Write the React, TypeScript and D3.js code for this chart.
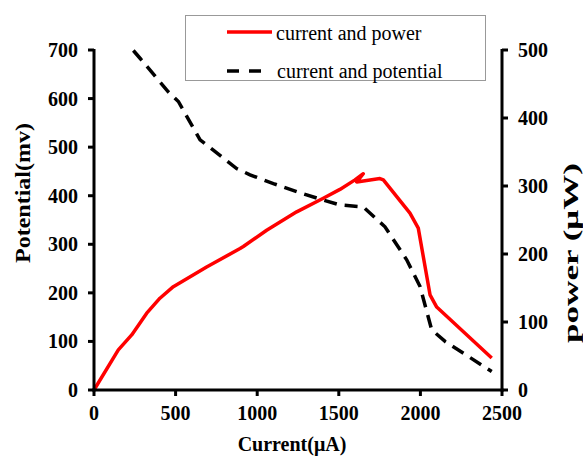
import React from "react";
import * as d3 from "d3";

const xTicks = [0, 500, 1000, 1500, 2000, 2500];
const leftTicks = [0, 100, 200, 300, 400, 500, 600, 700];
const rightTicks = [0, 100, 200, 300, 400, 500];

const powerCurrent = [0, 149, 231, 323, 404, 486, 690, 895, 915, 1058, 1242, 1405, 1507, 1599, 1650, 1610, 1752, 1773, 1936, 1987, 2059, 2100, 2437];
const powerValue = [0, 59, 81, 113, 135, 152, 181, 208, 211, 235, 262, 282, 295, 309, 318, 306, 311, 309, 260, 238, 140, 122, 47];

const potCurrent = [241, 282, 455, 517, 650, 731, 874, 956, 1099, 1262, 1405, 1507, 1650, 1783, 1916, 1998, 2069, 2151, 2437];
const potValue = [699, 683, 614, 594, 515, 494, 456, 443, 425, 406, 391, 381, 377, 336, 268, 213, 124, 100, 38];

const seriesNames = ["current and power", "current and potential"];

export default function App() {
  const W = 583, H = 456;
  const x = d3.scaleLinear().domain([0, 2500]).range([94, 502]);
  const yL = d3.scaleLinear().domain([0, 700]).range([390, 50]);
  const yR = d3.scaleLinear().domain([0, 500]).range([390, 50]);

  const powerPts = powerCurrent.map((c, i) => [c, powerValue[i]] as [number, number]);
  const potPts = potCurrent.map((c, i) => [c, potValue[i]] as [number, number]);

  const powerLine = d3.line<[number, number]>().x(d => x(d[0])).y(d => yR(d[1]))(powerPts) || "";
  const potLine = d3.line<[number, number]>().x(d => x(d[0])).y(d => yL(d[1]))(potPts) || "";

  const font = "'Liberation Serif', 'Times New Roman', serif";

  return (
    <svg width={W} height={H} style={{ position: "absolute", left: 0, top: 0, background: "#fff" }} fontFamily={font}>
      <rect x={0} y={0} width={W} height={H} fill="#fff" />
      {/* curves */}
      <path d={potLine} fill="none" stroke="#000" strokeWidth={3.5} strokeDasharray="13,8" />
      <path d={powerLine} fill="none" stroke="#ff0000" strokeWidth={3.5} strokeLinejoin="round" />

      {/* axes */}
      <line x1={x(0)} x2={x(0)} y1={yL(700) - 1} y2={yL(0) + 1.5} stroke="#000" strokeWidth={3} />
      <line x1={x(2500)} x2={x(2500)} y1={yR(500) - 1} y2={yR(0) + 1.5} stroke="#000" strokeWidth={3} />
      <line x1={x(0) - 1.5} x2={x(2500) + 1.5} y1={yL(0)} y2={yL(0)} stroke="#000" strokeWidth={3} />

      {leftTicks.map(t => (
        <g key={"l" + t}>
          <line x1={x(0) - 6} x2={x(0)} y1={yL(t)} y2={yL(t)} stroke="#000" strokeWidth={3} />
          <text x={78} y={yL(t)} textAnchor="end" dominantBaseline="central" fontWeight="bold" fontSize={20}>{t}</text>
        </g>
      ))}
      {rightTicks.map(t => (
        <g key={"r" + t}>
          <line x1={x(2500)} x2={x(2500) + 6} y1={yR(t)} y2={yR(t)} stroke="#000" strokeWidth={3} />
          <text x={518} y={yR(t)} textAnchor="start" dominantBaseline="central" fontWeight="bold" fontSize={20}>{t}</text>
        </g>
      ))}
      {xTicks.map(t => (
        <g key={"x" + t}>
          <line x1={x(t)} x2={x(t)} y1={yL(0)} y2={yL(0) + 6} stroke="#000" strokeWidth={3} />
          <text x={x(t)} y={413} textAnchor="middle" dominantBaseline="central" fontWeight="bold" fontSize={20}>{t}</text>
        </g>
      ))}

      {/* axis titles */}
      <text x={292} y={444} textAnchor="middle" dominantBaseline="central" fontWeight="bold" fontSize={20}>Current(μA)</text>
      <text transform="translate(22,193) rotate(-90)" textAnchor="middle" dominantBaseline="central" fontWeight="bold" fontSize={22} textLength={140} lengthAdjust="spacingAndGlyphs">Potential(mv)</text>
      <text transform="translate(571,253) rotate(-90)" textAnchor="middle" dominantBaseline="central" fontWeight="bold" fontSize={21} textLength={180} lengthAdjust="spacingAndGlyphs">power (μW)</text>

      {/* legend */}
      <rect x={185.5} y={15.5} width={300} height={65} fill="#fff" stroke="#999" strokeWidth={1} />
      <line x1={227} x2={272} y1={32} y2={32} stroke="#ff0000" strokeWidth={3.5} />
      <text x={276} y={33} dominantBaseline="central" fontSize={20}>{seriesNames[0]}</text>
      <line x1={227} x2={262} y1={71} y2={71} stroke="#000" strokeWidth={3.5} strokeDasharray="12,10" />
      <text x={277} y={71} dominantBaseline="central" fontSize={20}>{seriesNames[1]}</text>
    </svg>
  );
}
